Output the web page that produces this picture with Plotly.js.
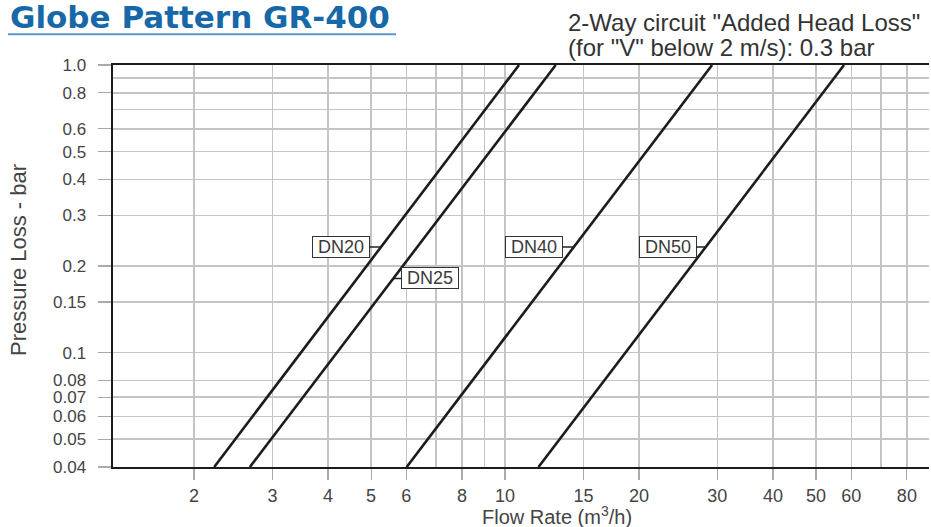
<!DOCTYPE html>
<html>
<head>
<meta charset="utf-8">
<script src="https://cdn.plot.ly/plotly-3.0.1.min.js"></script>
<style>html,body{margin:0;padding:0;background:#fff;}#chart{width:931px;height:527px;}</style>
</head>
<body>
<div id="chart"></div>
<script>
// Series: each line is straight on log-log axes, read at bottom (0.04 bar) and top (1.0 bar)
var seriesNames = ["DN20", "DN25", "DN40", "DN50"];
var pressureEnds = [0.04, 1.0];
var flowDN20 = [2.22, 10.75];
var flowDN25 = [2.67, 13.0];
var flowDN40 = [6.01, 29.2];
var flowDN50 = [11.89, 57.8];
var labelPressure = [0.233, 0.181, 0.233, 0.233];

var xTickVals = [2, 3, 4, 5, 6, 8, 10, 15, 20, 30, 40, 50, 60, 80];
var xTickText = ["2", "3", "4", "5", "6", "8", "10", "15", "20", "30", "40", "50", "60", "80"];
var xGridOnly = [7, 9, 70];
var yTickVals = [1.0, 0.8, 0.6, 0.5, 0.4, 0.3, 0.2, 0.15, 0.1, 0.08, 0.07, 0.06, 0.05, 0.04];
var yTickText = ["1.0", "0.8", "0.6", "0.5", "0.4", "0.3", "0.2", "0.15", "0.1", "0.08", "0.07", "0.06", "0.05", "0.04"];
var yGridOnly = [0.9, 0.7];

var flows = [flowDN20, flowDN25, flowDN40, flowDN50];
var labelShift = [-40, 37, -40, -38];

var traces = flows.map(function (f, i) {
  return {
    x: f, y: pressureEnds, type: "scatter", mode: "lines", name: seriesNames[i],
    line: {color: "#1c1c1c", width: 2.6}, hoverinfo: "skip", showlegend: false
  };
});

var L = Math.log10;
var annotations = flows.map(function (f, i) {
  var t = (L(labelPressure[i]) - L(pressureEnds[0])) / (L(pressureEnds[1]) - L(pressureEnds[0]));
  var lx = L(f[0]) + t * (L(f[1]) - L(f[0]));
  return {
    x: lx, y: L(labelPressure[i]), xref: "x", yref: "y",
    text: seriesNames[i], showarrow: true, arrowhead: 0, arrowwidth: 1.6, arrowcolor: "#222",
    standoff: 0, startstandoff: 0, ax: labelShift[i], ay: 0,
    bgcolor: "#fff", bordercolor: "#333", borderwidth: 1, borderpad: 1,
    width: 54, height: 18,
    font: {family: "Liberation Sans, Arial, sans-serif", size: 18, color: "#3a3a3a"}
  };
});

annotations.push({
  xref: "paper", yref: "paper", x: -0.1287, y: 1.1194, xanchor: "left", yanchor: "middle",
  text: "<b>Globe Pattern GR-400</b>", showarrow: false,
  font: {family: "DejaVu Sans, sans-serif", size: 31, color: "#1768a8"}
});
annotations.push({
  xref: "paper", yref: "paper", x: 0.5551, y: 1.106, xanchor: "left", yanchor: "middle", align: "left",
  text: "2-Way circuit \"Added Head Loss\"", showarrow: false,
  font: {family: "Liberation Sans, Arial, sans-serif", size: 24, color: "#333"}
});
annotations.push({
  xref: "paper", yref: "paper", x: 0.5551, y: 1.044, xanchor: "left", yanchor: "middle", align: "left",
  text: "(for \"V\" below 2 m/s): 0.3 bar", showarrow: false,
  font: {family: "Liberation Sans, Arial, sans-serif", size: 24, color: "#333"}
});
annotations.push({
  xref: "paper", yref: "paper", x: 0.544, y: -0.1206, xanchor: "center", yanchor: "middle",
  text: "Flow Rate (m<sup>3</sup>/h)", showarrow: false,
  font: {family: "Liberation Sans, Arial, sans-serif", size: 20, color: "#444"}
});
annotations.push({
  xref: "paper", yref: "paper", x: -0.116, y: 0.516, xanchor: "center", yanchor: "middle",
  text: "Pressure Loss - bar", textangle: -90, showarrow: false,
  font: {family: "Liberation Sans, Arial, sans-serif", size: 22, color: "#444"}
});

var layout = {
  width: 931, height: 527,
  margin: {l: 113, r: 2, t: 65, b: 60, pad: 0},
  paper_bgcolor: "#fff", plot_bgcolor: "#fff",
  font: {family: "Liberation Sans, Arial, sans-serif", color: "#444"},
  xaxis: {
    type: "log", range: [L(1.315), L(89.7)], autorange: false,
    tickmode: "array", tickvals: xTickVals, ticktext: xTickText,
    ticks: "outside", ticklen: 11, tickwidth: 1.2, tickcolor: "#aaa",
    tickfont: {size: 18, color: "#444"},
    showgrid: true, gridcolor: "#c4c4c4", gridwidth: 1.4,
    minor: {tickmode: "array", tickvals: xGridOnly, showgrid: true, gridcolor: "#c4c4c4", gridwidth: 1.4, ticks: ""},
    showline: true, linecolor: "#1c1c1c", linewidth: 2.4, mirror: true,
    zeroline: false, fixedrange: true
  },
  yaxis: {
    type: "log", range: [L(0.04), 0], autorange: false,
    tickmode: "array", tickvals: yTickVals, ticktext: yTickText,
    ticks: "outside", ticklen: 13, tickwidth: 1.2, tickcolor: "#aaa",
    ticklabelstandoff: 8,
    tickfont: {size: 17, color: "#444"},
    showgrid: true, gridcolor: "#c4c4c4", gridwidth: 1.4,
    minor: {tickmode: "array", tickvals: yGridOnly, showgrid: true, gridcolor: "#c4c4c4", gridwidth: 1.4, ticks: ""},
    showline: true, linecolor: "#1c1c1c", linewidth: 2.4, mirror: false,
    zeroline: false, fixedrange: true
  },
  shapes: [{
    type: "line", xref: "paper", yref: "paper", x0: -0.1287, x1: 0.3468, y0: 1.0762, y1: 1.0762,
    line: {color: "#5b97cc", width: 2}
  }],
  annotations: annotations,
  showlegend: false
};

Plotly.newPlot("chart", traces, layout, {displayModeBar: false, staticPlot: true});
</script>
</body>
</html>
